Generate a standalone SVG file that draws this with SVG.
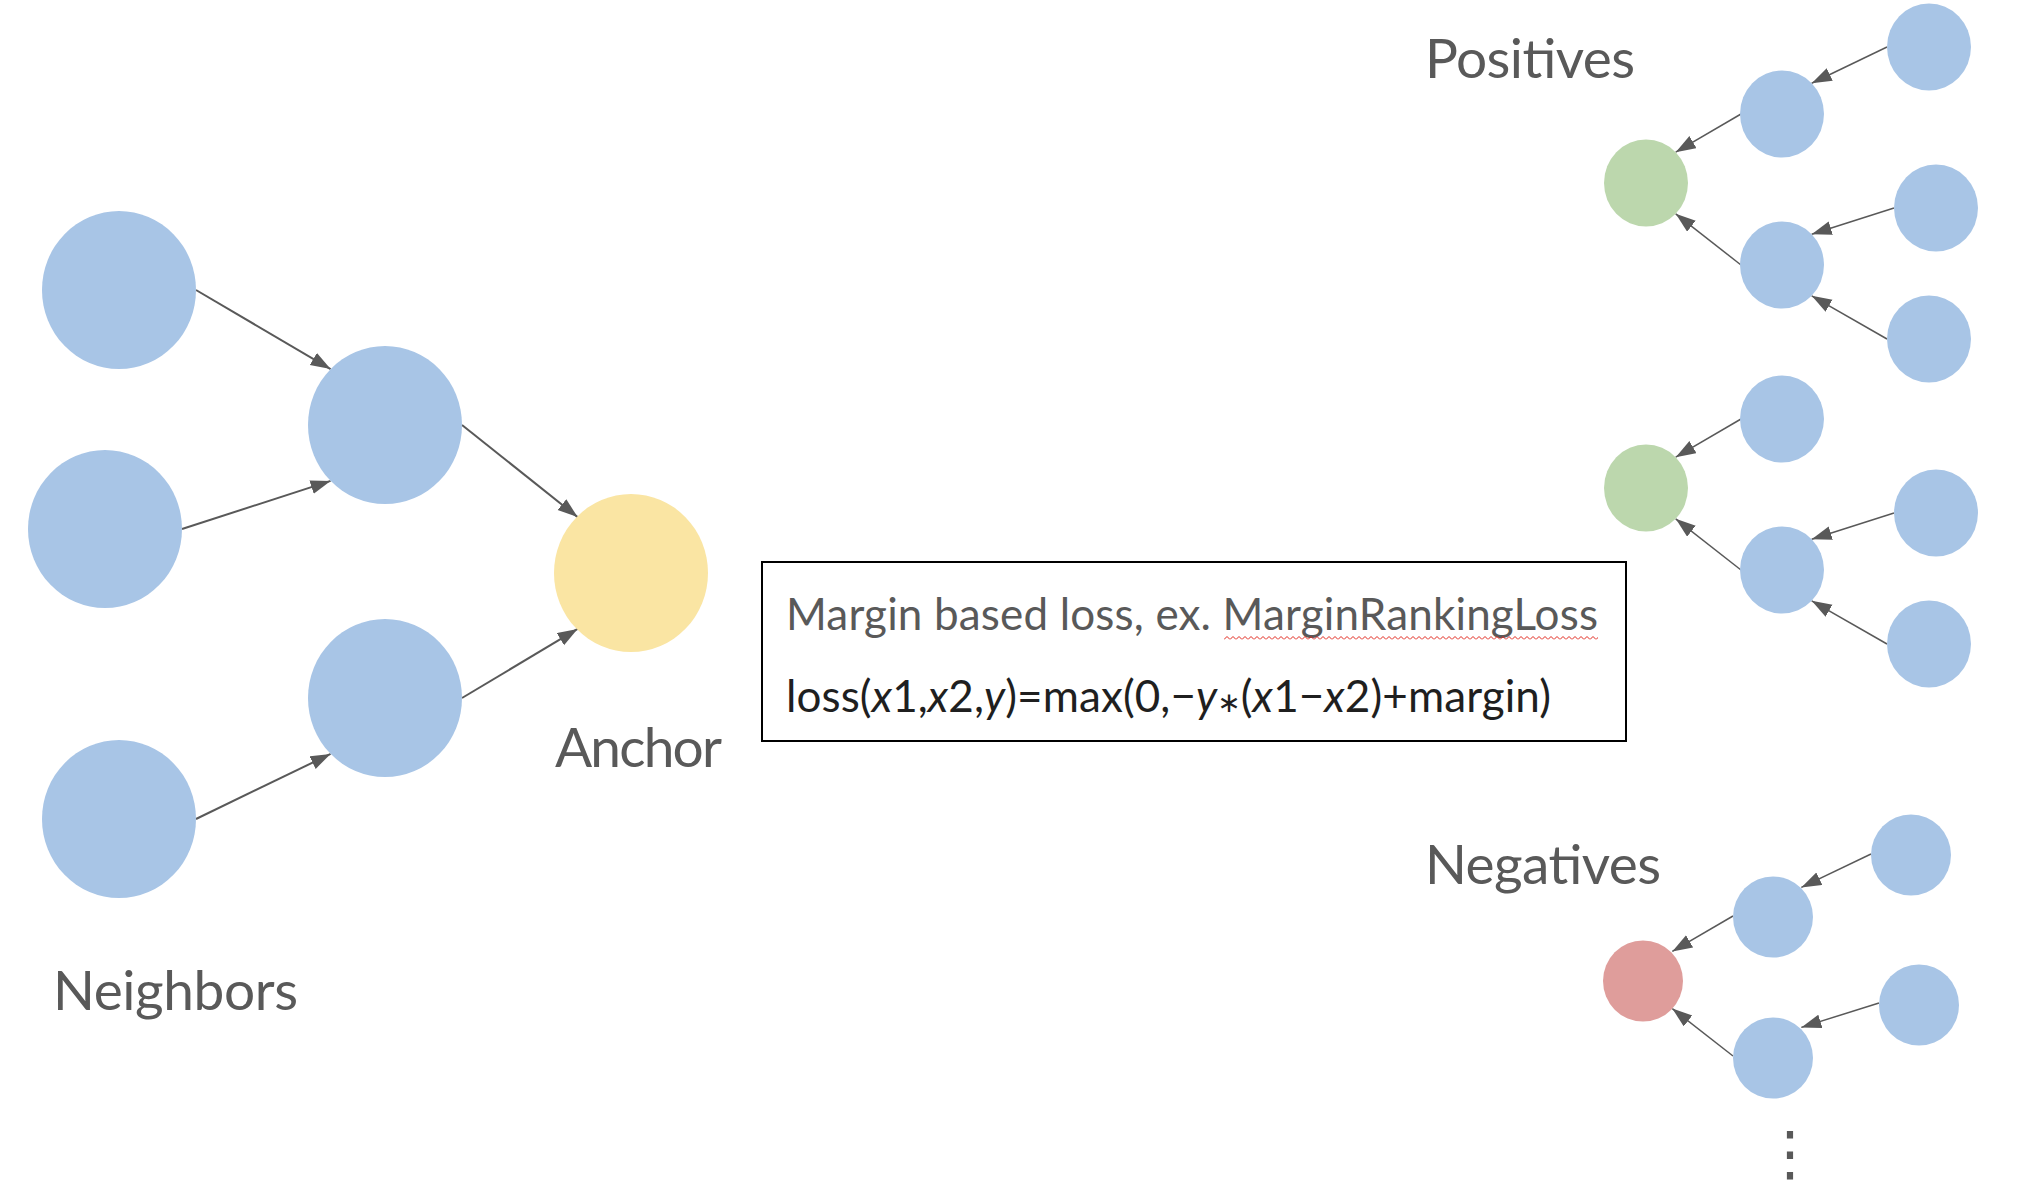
<svg xmlns="http://www.w3.org/2000/svg" width="2034" height="1202" viewBox="0 0 2034 1202">
<defs>
<style>
.blue{fill:#a8c5e6}
.green{fill:#bcd7ad}
.yellow{fill:#fae5a3}
.red{fill:#df9d9b}
.lbl{font-family:Lato,"Noto Sans",sans-serif;font-size:55px;fill:#595959}
.box{font-family:Lato,"Noto Sans",sans-serif;font-size:44px}
.edgeL{stroke:#595959;stroke-width:2;fill:none;marker-end:url(#ah)}
.edgeR{stroke:#595959;stroke-width:1.5;fill:none;marker-end:url(#ah)}
</style>
<marker id="ah" markerUnits="userSpaceOnUse" markerWidth="22" markerHeight="16" refX="20" refY="7" orient="auto">
<path d="M0,0 L20,7 L0,14 z" fill="#595959"/>
</marker>
<pattern id="squig" patternUnits="userSpaceOnUse" x="1224" y="635" width="6" height="6">
<polyline points="0,4.5 3,1.5 6,4.5" fill="none" stroke="#e0261b" stroke-width="1"/>
</pattern>
</defs>
<rect width="2034" height="1202" fill="#fff"/>

<g id="connectors">
<line class="edgeL" x1="196" y1="290" x2="330.6" y2="369.1"/>
<line class="edgeL" x1="182" y1="529" x2="330.6" y2="480.9"/>
<line class="edgeL" x1="196" y1="819" x2="330.6" y2="753.9"/>
<line class="edgeL" x1="462" y1="425" x2="577.6" y2="517.1"/>
<line class="edgeL" x1="462" y1="698" x2="577.6" y2="628.9"/>

<line class="edgeR" x1="1887" y1="47" x2="1811.7" y2="83.2"/>
<line class="edgeR" x1="1741" y1="114" x2="1675.7" y2="152.2"/>
<line class="edgeR" x1="1894" y1="208" x2="1811.7" y2="234.2"/>
<line class="edgeR" x1="1887" y1="339" x2="1811.7" y2="295.8"/>
<line class="edgeR" x1="1741" y1="265" x2="1675.7" y2="213.8"/>

<line class="edgeR" x1="1741" y1="419" x2="1675.7" y2="457.2"/>
<line class="edgeR" x1="1894" y1="513" x2="1811.7" y2="539.2"/>
<line class="edgeR" x1="1887" y1="644" x2="1811.7" y2="600.8"/>
<line class="edgeR" x1="1741" y1="570" x2="1675.7" y2="518.8"/>

<line class="edgeR" x1="1871" y1="854" x2="1801.3" y2="887.4"/>
<line class="edgeR" x1="1733" y1="916" x2="1672.3" y2="951.4"/>
<line class="edgeR" x1="1879" y1="1003" x2="1801.3" y2="1027.4"/>
<line class="edgeR" x1="1733" y1="1056" x2="1672.3" y2="1008.6"/>
</g>

<g id="neighbor1"><ellipse class="blue" cx="119" cy="290" rx="77" ry="79"/></g>
<g id="neighbor2"><ellipse class="blue" cx="105" cy="529" rx="77" ry="79"/></g>
<g id="neighbor3"><ellipse class="blue" cx="119" cy="819" rx="77" ry="79"/></g>
<g id="hop1a"><ellipse class="blue" cx="385" cy="425" rx="77" ry="79"/></g>
<g id="hop1b"><ellipse class="blue" cx="385" cy="698" rx="77" ry="79"/></g>
<g id="anchor"><ellipse class="yellow" cx="631" cy="573" rx="77" ry="79"/></g>

<g id="pos1"><ellipse class="green" cx="1646" cy="183" rx="42" ry="43.5"/></g>
<g id="pos1a"><ellipse class="blue" cx="1782" cy="114" rx="42" ry="43.5"/></g>
<g id="pos1b"><ellipse class="blue" cx="1782" cy="265" rx="42" ry="43.5"/></g>
<g id="pos1a1"><ellipse class="blue" cx="1929" cy="47" rx="42" ry="43.5"/></g>
<g id="pos1b1"><ellipse class="blue" cx="1936" cy="208" rx="42" ry="43.5"/></g>
<g id="pos1b2"><ellipse class="blue" cx="1929" cy="339" rx="42" ry="43.5"/></g>

<g id="pos2"><ellipse class="green" cx="1646" cy="488" rx="42" ry="43.5"/></g>
<g id="pos2a"><ellipse class="blue" cx="1782" cy="419" rx="42" ry="43.5"/></g>
<g id="pos2b"><ellipse class="blue" cx="1782" cy="570" rx="42" ry="43.5"/></g>
<g id="pos2b1"><ellipse class="blue" cx="1936" cy="513" rx="42" ry="43.5"/></g>
<g id="pos2b2"><ellipse class="blue" cx="1929" cy="644" rx="42" ry="43.5"/></g>

<g id="neg1"><ellipse class="red" cx="1643" cy="981" rx="40" ry="40.5"/></g>
<g id="neg1a"><ellipse class="blue" cx="1773" cy="917" rx="40" ry="40.5"/></g>
<g id="neg1b"><ellipse class="blue" cx="1773" cy="1058" rx="40" ry="40.5"/></g>
<g id="neg1a1"><ellipse class="blue" cx="1911" cy="855" rx="40" ry="40.5"/></g>
<g id="neg1b1"><ellipse class="blue" cx="1919" cy="1005" rx="40" ry="40.5"/></g>

<g id="labels">
<text class="lbl" x="555" y="767" textLength="167" lengthAdjust="spacing">Anchor</text>
<text class="lbl" x="53" y="1010" textLength="245" lengthAdjust="spacing">Neighbors</text>
<text class="lbl" x="1425" y="78" textLength="210" lengthAdjust="spacing">Positives</text>
<text class="lbl" x="1425" y="884" textLength="236" lengthAdjust="spacing">Negatives</text>
<text x="1790" y="1174" font-family="'DejaVu Sans',sans-serif" font-size="60" fill="#595959" text-anchor="middle">⋮</text>
</g>

<g id="lossbox">
<rect x="762" y="562" width="864" height="179" fill="#fff" stroke="#000" stroke-width="2"/>
<text class="box" x="786" y="630" fill="#595959" textLength="812" lengthAdjust="spacing">Margin based loss, ex. MarginRankingLoss</text>
<rect x="1224" y="636" width="374" height="6" fill="url(#squig)"/>
<text class="box" x="786" y="712" fill="#1f1f1f" textLength="765" lengthAdjust="spacing">loss(<tspan font-style="italic">x</tspan>1,<tspan font-style="italic">x</tspan>2,<tspan font-style="italic">y</tspan>)=max(0,−<tspan font-style="italic">y</tspan><tspan font-family="'DejaVu Sans',sans-serif" font-size="28">∗</tspan>(<tspan font-style="italic">x</tspan>1−<tspan font-style="italic">x</tspan>2)+margin)</text>
</g>
</svg>
